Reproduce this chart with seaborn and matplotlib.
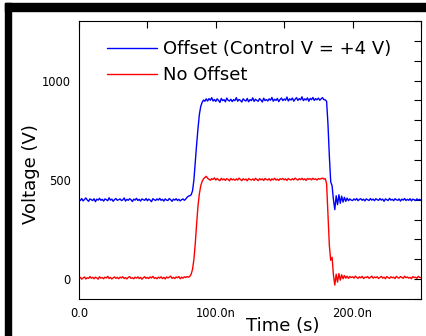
import numpy as np
import pandas as pd
import seaborn as sns
import matplotlib.pyplot as plt
from matplotlib.patches import Rectangle
from matplotlib.ticker import MultipleLocator

# time axis in ns, 1 ns per sample
time_ns = list(range(0, 251))

offset_v = [
    402, 396, 406, 394, 401, 409, 399, 392, 404, 400,
    396, 405, 390, 403, 398, 407, 397, 402, 393, 404,
    400, 395, 410, 398, 403, 392, 401, 406, 397, 400,
    404, 396, 399, 409, 393, 402, 397, 405, 400, 391,
    403, 398, 407, 396, 402, 393, 404, 400, 397, 406,
    395, 403, 398, 390, 405, 400, 396, 404, 398, 407,
    397, 402, 393, 404, 398, 396, 406, 400, 392, 403,
    398, 405, 396, 402, 394, 400, 404, 397, 403, 412,
    418, 420, 425, 445, 500, 590, 680, 760, 830, 870,
    890, 902, 896, 908, 897, 909, 901, 914, 897, 905,
    895, 908, 900, 890, 910, 899, 904, 893, 912, 901,
    897, 906, 894, 904, 899, 914, 896, 905, 900, 892,
    908, 901, 897, 910, 893, 904, 899, 913, 895, 906,
    900, 896, 909, 902, 892, 911, 899, 905, 897, 908,
    901, 915, 896, 906, 900, 910, 894, 905, 912, 899,
    907, 901, 917, 897, 908, 902, 912, 896, 906, 914,
    900, 909, 903, 918, 899, 908, 902, 913, 896, 910,
    904, 915, 900, 909, 903, 912, 901, 908, 914, 904,
    903, 895, 780, 620, 490, 470, 400, 350, 420, 375,
    425, 382, 418, 388, 412, 392, 408, 395, 404, 398,
    396, 404, 398, 406, 395, 402, 405, 397, 403, 394,
    404, 400, 396, 406, 398, 403, 395, 405, 400, 397,
    406, 398, 403, 392, 404, 400, 396, 407, 398, 402,
    395, 405, 400, 397, 404, 393, 403, 398, 406, 396,
    402, 397, 405, 394, 403, 400, 396, 404, 398, 402,
    398,
]

no_offset_v = [
    3, 9, 0, 6, 11, 1, 7, 4, 13, 5,
    9, 2, 10, 6, 0, 12, 5, 8, 2, 10,
    6, 14, 3, 9, 1, 7, 11, 4, 9, 2,
    10, 6, 12, 3, 8, 1, 9, 13, 4, 7,
    2, 10, 5, 11, 3, 9, 0, 7, 12, 4,
    9, 3, 11, 6, 14, 4, 8, 2, 10, 5,
    12, 3, 9, 1, 11, 6, 10, 15, 4, 9,
    3, 11, 7, 13, 2, 10, 5, 12, 8, 13,
    10, 14, 25, 50, 100, 180, 280, 370, 430, 470,
    492, 505, 512, 518, 508, 503, 498, 506, 502, 510,
    499, 507, 501, 496, 508, 500, 505, 497, 506, 502,
    495, 507, 500, 504, 498, 505, 499, 509, 502, 496,
    506, 500, 504, 495, 507, 502, 499, 505, 497, 508,
    502, 496, 506, 500, 505, 497, 507, 502, 499, 506,
    496, 505, 500, 508, 499, 504, 497, 506, 502, 507,
    500, 505, 497, 507, 502, 499, 506, 500, 509, 503,
    499, 506, 501, 508, 500, 505, 497, 507, 503, 506,
    500, 508, 502, 505, 499, 507, 503, 506, 509, 504,
    506, 480, 330, 170, 95, 110, 20, -30, 25, -15,
    28, -5, 22, 2, 18, 5, 15, 4, 13, 8,
    12, 5, 15, 9, 4, 12, 7, 14, 3, 10,
    8, 13, 4, 9, 15, 5, 11, 7, 12, 3,
    9, 14, 5, 10, 2, 13, 8, 4, 12, 7,
    10, 3, 14, 8, 5, 13, 9, 4, 15, 7,
    11, 5, 9, 2, 13, 8, 10, 4, 14, 9,
    7,
]

series_names = ['Offset (Control V = +4 V)', 'No Offset']
series_colors = ['#0000ff', '#ff0000']

x_ticks = [0, 100, 200]
x_ticklabels = ['0.0', '100.0n', '200.0n']
y_ticks = [0, 500, 1000]

df = pd.concat([
    pd.DataFrame({'time': time_ns, 'voltage': offset_v, 'series': series_names[0]}),
    pd.DataFrame({'time': time_ns, 'voltage': no_offset_v, 'series': series_names[1]}),
])

sns.set_style('white')
plt.rcParams['font.family'] = ['DejaVu Sans']
plt.rcParams['text.color'] = 'black'
plt.rcParams['axes.labelcolor'] = 'black'
plt.rcParams['xtick.color'] = 'black'
plt.rcParams['ytick.color'] = 'black'

fig = plt.figure(figsize=(4.27, 3.36), dpi=100)
ax = fig.add_axes([79 / 427, 37 / 336, 342 / 427, 278 / 336])

sns.lineplot(data=df, x='time', y='voltage', hue='series',
             palette=dict(zip(series_names, series_colors)),
             linewidth=1.0, ax=ax, estimator=None, sort=False)

ax.set_xlim(0, 250)
ax.set_ylim(-100, 1300)
ax.set_xticks(x_ticks)
ax.set_xticklabels(x_ticklabels)
ax.xaxis.set_minor_locator(MultipleLocator(50))
ax.set_yticks(y_ticks)
ax.yaxis.set_minor_locator(MultipleLocator(100))
ax.tick_params(which='both', direction='in', top=True, right=True,
               length=5, width=0.8, color='black', labelsize=8.3,
               labelcolor='black', pad=6)

for s in ax.spines.values():
    s.set_color('black')
    s.set_linewidth(0.8)

ax.set_xlabel('Time (s)', fontsize=13, color='black')
ax.set_ylabel('Voltage (V)', fontsize=13, color='black')
ax.xaxis.set_label_coords(0.596, -0.066)
ax.yaxis.set_label_coords(-0.115, 0.45)

leg = ax.legend(title=None, frameon=False, loc='upper left',
                bbox_to_anchor=(0.083, 0.932), borderaxespad=0, borderpad=0,
                handlelength=2.75, handletextpad=0.35, labelspacing=0.47,
                fontsize=13)
for t in leg.get_texts():
    t.set_color('black')

# black frame along the top and left of the picture
fig.patches.append(Rectangle((5 / 427, 1 - 10.5 / 336), 422 / 427, 7.5 / 336,
                             transform=fig.transFigure, color='black', zorder=10))
fig.patches.append(Rectangle((5 / 427, 0), 6 / 427, 1 - 3 / 336,
                             transform=fig.transFigure, color='black', zorder=10))

fig.savefig('out.png', dpi=100)
